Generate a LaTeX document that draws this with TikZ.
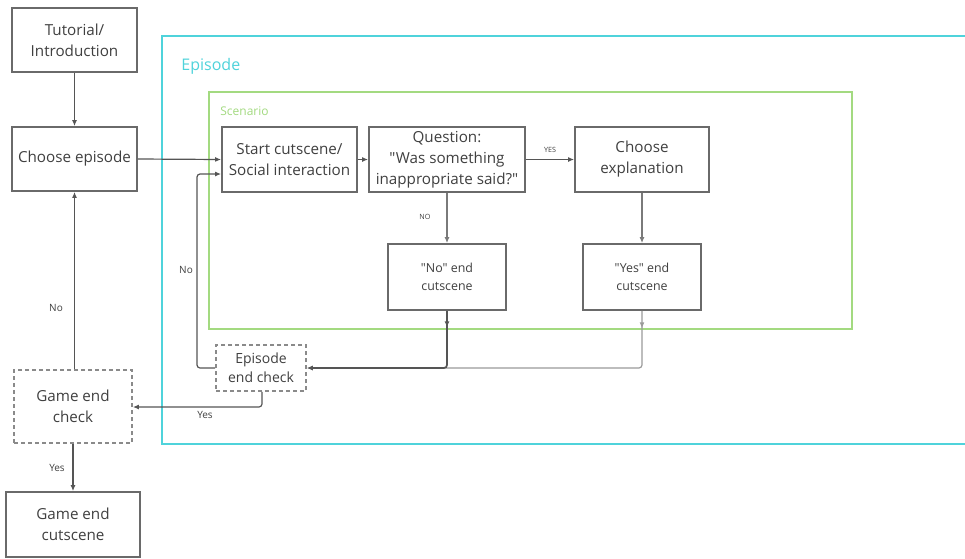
\documentclass[tikz,border=0pt]{standalone}
\usepackage{fontspec}
\setmainfont{Open Sans}[Ligatures=TeXOff]
\usetikzlibrary{arrows.meta,decorations.markings}
\definecolor{boxline}{HTML}{6A6A6A}
\definecolor{dashline}{HTML}{8A8A8A}
\definecolor{txt}{HTML}{404040}
\definecolor{conn}{HTML}{555555}
\definecolor{connmid}{HTML}{7A7A7A}
\definecolor{connlight}{HTML}{9A9A9A}
\definecolor{epcol}{HTML}{4FD3DB}
\definecolor{sccol}{HTML}{A3DA80}
\tikzset{
  box/.style={draw=boxline, line width=0.8pt, fill=white, text=txt, align=center, inner sep=1pt},
  dbox/.style={box, draw=dashline, dash pattern=on 2pt off 1.5pt},
  bigtxt/.style={font=\fontsize{7.6}{10.5}\selectfont},
  midtxt/.style={font=\fontsize{6.2}{8.8}\selectfont},
  lbl/.style={text=txt, font=\fontsize{5}{6}\selectfont, inner sep=0pt},
  tiny/.style={text=txt, font=\fontsize{3.6}{4.5}\selectfont, inner sep=0pt},
  conn/.style={draw=conn, line width=0.6pt, -{Latex[length=3pt,width=2.4pt]}, rounded corners=1.5pt},
  midarrow/.style={postaction={decorate}, decoration={markings, mark=at position #1 with {\arrow{Latex[length=3pt,width=2.4pt]}}}},
}
\begin{document}
\begin{tikzpicture}[x=0.5pt, y=-0.5pt]
\useasboundingbox (0,0) rectangle (965,558);
\fill[white] (0,0) rectangle (965,558);
% frames
\draw[epcol, line width=0.8pt] (985,36) -- (162,36) -- (162,444) -- (985,444);
\node[anchor=west, text=epcol, font=\fontsize{8}{9.6}\selectfont, inner sep=0pt] (eplabel) at (181,66) {Episode};
\draw[sccol, line width=0.8pt] (209,92) rectangle (852,329);
\node[anchor=west, text=sccol, font=\fontsize{6}{7.2}\selectfont, inner sep=0pt] (sclabel) at (220,111) {Scenario};
% left column
\node[box, bigtxt, minimum width=62.5pt, minimum height=32pt] (tut) at (74.5,40) {Tutorial/\\Introduction};
\node[box, bigtxt, minimum width=62.5pt, minimum height=32pt] (choose) at (74.5,159) {Choose episode};
\node[dbox, bigtxt, minimum width=59pt, minimum height=36.5pt] (gcheck) at (73,406.5) {Game end\\check};
\node[box, bigtxt, minimum width=67pt, minimum height=32.5pt] (gend) at (73,524.5) {Game end\\cutscene};
% scenario
\node[box, bigtxt, minimum width=67.5pt, minimum height=32.5pt] (start) at (289.5,159.5) {Start cutscene/\\Social interaction};
\node[box, bigtxt, minimum width=78pt, minimum height=32.5pt] (quest) at (447,159.5) {Question:\\"Was something\\inappropriate said?"};
\node[box, bigtxt, minimum width=67pt, minimum height=32.5pt] (expl) at (642,159.5) {Choose\\explanation};
\node[box, midtxt, minimum width=59pt, minimum height=33pt] (noend) at (447,277) {"No" end\\cutscene};
\node[box, midtxt, minimum width=59pt, minimum height=33pt] (yesend) at (642,277) {"Yes" end\\cutscene};
\node[dbox, font=\fontsize{7}{9.6}\selectfont, minimum width=45pt, minimum height=23pt] (echeck) at (261,368) {Episode\\end check};
% connectors
\draw[conn] (tut.south) -- (choose.north);
\draw[conn] (choose.east) -- (start.west);
\draw[conn] (start.east) -- (quest.west);
\draw[conn] (quest.east) -- node[tiny, above=3pt] (yeslbl) {YES} (expl.west);
\draw[conn, draw=connmid] (quest.south) -- node[tiny, pos=0.48, left=8pt] (nolbl) {NO} (noend.north);
\draw[conn, draw=connmid] (expl.south) -- (yesend.north);
\draw[conn, draw=connlight, midarrow=0.045] (yesend.south) |- (echeck.east);
\draw[conn, draw=conn, line width=0.85pt, midarrow=0.085] (noend.south) |- (echeck.east);
\coordinate (loopA) at (197,368);
\coordinate (loopB) at (197,174);
\draw[conn] (echeck.west) -- (loopA) -- (loopB) -- (start.west |- loopB);
\node[lbl] (nolbl2) at (186,270) {No};
\coordinate (ycorner) at (262,407);
\draw[conn] (echeck.south -| ycorner) -- (ycorner) -- (gcheck.east |- ycorner);
\node[lbl] (yeslbl2) at (205,415) {Yes};
\draw[conn] (gcheck.north -| choose.south) -- (choose.south);
\node[lbl] (nolbl3) at (56,308) {No};
\draw[conn] (gcheck.south) -- (gend.north);
\node[lbl] (yeslbl3) at (57,468) {Yes};
\end{tikzpicture}
\end{document}
